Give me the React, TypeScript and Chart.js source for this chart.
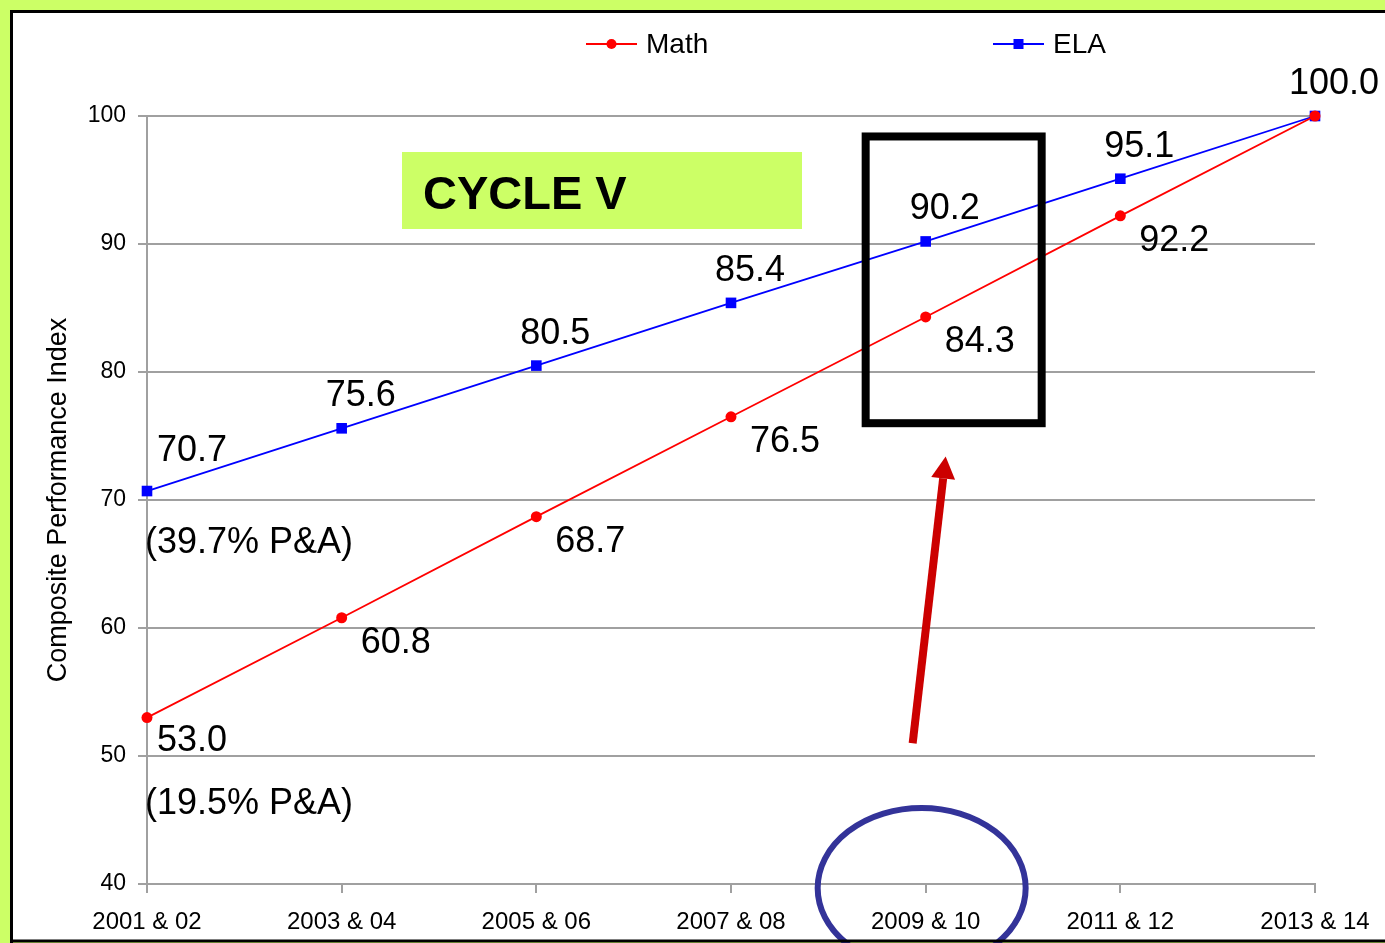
import React, { useEffect, useRef } from "react";
import { Chart, registerables } from "chart.js";

Chart.register(...registerables);

// ---- data ----
const categories = ["2001 & 02", "2003 & 04", "2005 & 06", "2007 & 08", "2009 & 10", "2011 & 12", "2013 & 14"];
const seriesNames = ["Math", "ELA"];
const mathValues = [53.0, 60.8, 68.7, 76.5, 84.3, 92.2, 100.0];
const elaValues = [70.7, 75.6, 80.5, 85.4, 90.2, 95.1, 100.0];
const yMin = 40;
const yMax = 100;
const yStep = 10;
const startNotes = ["(19.5% P&A)", "(39.7% P&A)"];
const highlightIndex = 4;
const bannerText = "CYCLE V";
const yTitle = "Composite Performance Index";

const FONT = "'Liberation Sans', Arial, Helvetica, sans-serif";
const GRID = "#a0a0a0";

const decorations = {
  id: "decorations",
  beforeDraw(chart: any) {
    const { ctx, width, height } = chart;
    ctx.save();
    ctx.fillStyle = "#ccff66";
    ctx.fillRect(0, 0, width, height);
    ctx.fillStyle = "#ffffff";
    ctx.fillRect(11, 11, width - 11, height - 14);
    ctx.restore();
  },
  afterDatasetsDraw(chart: any) {
    const { ctx, chartArea } = chart;
    const xs = chart.scales.x;
    const ys = chart.scales.y;
    ctx.save();

    // value labels
    ctx.fillStyle = "#000";
    ctx.font = `36px ${FONT}`;
    ctx.textBaseline = "middle";
    const dsMath = chart.data.datasets[0].data;
    const dsEla = chart.data.datasets[1].data;
    chart.data.datasets.forEach((ds: any, di: number) => {
      const meta = chart.getDatasetMeta(di);
      const above = di === 1;
      meta.data.forEach((pt: any, i: number) => {
        const v = ds.data[i];
        if (!above && dsMath[i] === dsEla[i]) return;
        const txt = v.toFixed(1);
        if (i === 0) {
          ctx.textAlign = "left";
          ctx.fillText(txt, pt.x + 10, pt.y + (above ? -40 : 23));
          ctx.fillText(startNotes[di], pt.x - 2, pt.y + (above ? 52 : 86));
        } else {
          ctx.textAlign = "center";
          if (above) ctx.fillText(txt, pt.x + 19, pt.y - 32);
          else ctx.fillText(txt, pt.x + 54, pt.y + 25);
        }
      });
    });

    // banner
    const bx = chartArea.left + 255;
    const by = chartArea.top + 36;
    ctx.fillStyle = "#ccff66";
    ctx.fillRect(bx, by, 400, 77);
    ctx.fillStyle = "#000";
    ctx.font = `bold 47px ${FONT}`;
    ctx.textAlign = "left";
    ctx.textBaseline = "alphabetic";
    ctx.fillText(bannerText, bx + 21, by + 57);

    // highlight box
    const px = xs.getPixelForValue(highlightIndex);
    const top = ys.getPixelForValue(98.4);
    const bot = ys.getPixelForValue(76.0);
    ctx.strokeStyle = "#000";
    ctx.lineWidth = 8;
    ctx.strokeRect(px - 60, top, 176, bot - top);

    // arrow
    const x0 = px - 13, y0 = ys.getPixelForValue(51.0);
    const x1 = px + 20, y1 = ys.getPixelForValue(73.4);
    const ang = Math.atan2(y1 - y0, x1 - x0);
    const headLen = 22, headHalf = 12;
    const hx = x1 - headLen * Math.cos(ang);
    const hy = y1 - headLen * Math.sin(ang);
    ctx.strokeStyle = "#cc0000";
    ctx.fillStyle = "#cc0000";
    ctx.lineWidth = 8;
    ctx.lineCap = "butt";
    ctx.beginPath();
    ctx.moveTo(x0, y0);
    ctx.lineTo(hx, hy);
    ctx.stroke();
    ctx.beginPath();
    ctx.moveTo(x1, y1);
    ctx.lineTo(hx + headHalf * Math.sin(ang), hy - headHalf * Math.cos(ang));
    ctx.lineTo(hx - headHalf * Math.sin(ang), hy + headHalf * Math.cos(ang));
    ctx.closePath();
    ctx.fill();

    // ellipse around category
    ctx.strokeStyle = "#333399";
    ctx.lineWidth = 6;
    ctx.beginPath();
    ctx.ellipse(px - 4, chartArea.bottom + 4, 104, 80, 0, 0, Math.PI * 2);
    ctx.stroke();

    ctx.restore();
  },
  afterDraw(chart: any) {
    const { ctx, width, height } = chart;
    ctx.save();
    // legend
    const starts = [586, 993];
    const ly = 44;
    chart.data.datasets.forEach((ds: any, i: number) => {
      const sx = starts[i];
      ctx.strokeStyle = ds.borderColor;
      ctx.lineWidth = 2;
      ctx.beginPath();
      ctx.moveTo(sx, ly);
      ctx.lineTo(sx + 51, ly);
      ctx.stroke();
      ctx.fillStyle = ds.backgroundColor;
      if (ds.pointStyle === "rect") {
        ctx.fillRect(sx + 25.5 - 5, ly - 5, 10, 10);
      } else {
        ctx.beginPath();
        ctx.arc(sx + 25.5, ly, 5, 0, Math.PI * 2);
        ctx.fill();
      }
      ctx.fillStyle = "#000";
      ctx.font = `28px ${FONT}`;
      ctx.textAlign = "left";
      ctx.textBaseline = "middle";
      ctx.fillText(ds.label, sx + 60, ly + 1);
    });
    // frame
    ctx.strokeStyle = "#000";
    ctx.lineWidth = 3;
    ctx.beginPath();
    ctx.moveTo(11.5, height);
    ctx.lineTo(11.5, 11.5);
    ctx.lineTo(width, 11.5);
    ctx.stroke();
    ctx.beginPath();
    ctx.moveTo(10, height - 2);
    ctx.lineTo(width, height - 2);
    ctx.stroke();
    ctx.restore();
  },
};

export default function App() {
  const ref = useRef<HTMLCanvasElement | null>(null);
  useEffect(() => {
    document.body.style.margin = "0";
    const canvas = ref.current;
    if (!canvas) return;
    const chart = new Chart(canvas, {
      type: "line",
      data: {
        labels: categories,
        datasets: [
          {
            label: seriesNames[0],
            data: mathValues,
            borderColor: "#ff0000",
            backgroundColor: "#ff0000",
            borderWidth: 1.8,
            pointStyle: "circle",
            pointRadius: 5.5,
            pointBorderWidth: 0,
            pointBackgroundColor: "#ff0000",
            tension: 0,
            clip: false,
          } as any,
          {
            label: seriesNames[1],
            data: elaValues,
            borderColor: "#0000ff",
            backgroundColor: "#0000ff",
            borderWidth: 1.8,
            pointStyle: "rect",
            pointRadius: 7.5,
            pointBorderWidth: 0,
            pointBackgroundColor: "#0000ff",
            tension: 0,
            clip: false,
          } as any,
        ],
      },
      options: {
        responsive: false,
        animation: false,
        devicePixelRatio: 1,
        layout: { padding: { left: 12, right: 70, top: 116, bottom: 0 } },
        plugins: {
          legend: { display: false },
          tooltip: { enabled: false },
        },
        scales: {
          x: {
            type: "category",
            offset: false,
            grid: { display: true, drawOnChartArea: false, drawTicks: true, tickLength: 9, color: GRID, lineWidth: 2 },
            border: { display: true, color: GRID, width: 2 },
            ticks: { color: "#000", font: { family: FONT, size: 24 }, padding: 15, maxRotation: 0, autoSkip: false },
            afterFit: (s: any) => { s.height = 59; },
          },
          y: {
            min: yMin,
            max: yMax,
            ticks: { stepSize: yStep, color: "#000", font: { family: FONT, size: 23 }, padding: 12 },
            grid: { color: GRID, lineWidth: 2, tickLength: 9, drawTicks: true },
            border: { display: true, color: GRID, width: 2 },
            title: { display: true, text: yTitle, color: "#000", font: { family: FONT, size: 27 }, padding: { top: 30, bottom: 0 } },
            afterFit: (s: any) => { s.width = 135; },
          },
        },
      } as any,
      plugins: [decorations],
    });
    return () => chart.destroy();
  }, []);
  return (
    <div style={{ width: 1385, height: 943 }}>
      <canvas ref={ref} width={1385} height={943} style={{ display: "block" }} />
    </div>
  );
}
